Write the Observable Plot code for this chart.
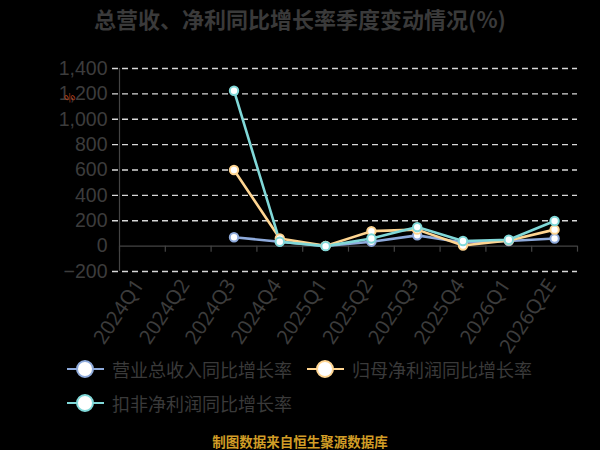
<!DOCTYPE html>
<html>
<head>
<meta charset="utf-8">
<script src="https://cdn.jsdelivr.net/npm/d3@7"></script>
<script src="https://cdn.jsdelivr.net/npm/@observablehq/plot@0.6"></script>
<style>
  html, body { margin: 0; padding: 0; background: #000; }
  #wrap { position: relative; width: 600px; height: 450px; overflow: hidden; background: #000;
          font-family: "Noto Sans CJK SC", "Noto Sans", sans-serif; }
  #title { position: absolute; left: 0; width: 600px; top: 3px; text-align: center;
           font-size: 22px; font-weight: bold; color: #3a3a3a; line-height: 30px; }
  #chart { position: absolute; left: 0; top: 0; }
  .leg { position: absolute; display: flex; align-items: center; font-size: 18px; color: #3a3a3a; line-height: 20px; }
  .leg svg { margin-right: 7px; }
  #foot { position: absolute; left: 0; width: 600px; top: 431px; text-align: center;
          font-size: 13.5px; font-weight: bold; color: #d19d26; line-height: 20px; }
  #mark { position: absolute; left: 64px; top: 89px; font-size: 11px; color: #b8401e; transform: rotate(-30deg); }
</style>
</head>
<body>
<div id="wrap">
  <div id="chart"></div>
  <div id="title">总营收、净利同比增长率季度变动情况(%)</div>
  <div id="mark">%</div>
  <div id="legend"></div>
  <div id="foot">制图数据来自恒生聚源数据库</div>
</div>
<script>
const categories = ["2024Q1","2024Q2","2024Q3","2024Q4","2025Q1","2025Q2","2025Q3","2025Q4","2026Q1","2026Q2E"];
const seriesNames = ["营业总收入同比增长率","归母净利润同比增长率","扣非净利润同比增长率"];
const revenueGrowth   = [null, null, 70, 35, 2, 35, 85, 28, 40, 60];
const netProfitGrowth = [null, null, 600, 60, 2, 118, 130, 5, 45, 130];
const deductedGrowth  = [null, null, 1225, 35, 0, 60, 150, 40, 50, 198];
const colors = ["#8eaadb", "#ffd591", "#80d8d8"];
const yTicks = [-200, 0, 200, 400, 600, 800, 1000, 1200, 1400];

const allSeries = [revenueGrowth, netProfitGrowth, deductedGrowth];
const rows = [];
allSeries.forEach((vals, s) => {
  vals.forEach((v, i) => {
    if (v !== null) rows.push({series: seriesNames[s], idx: i + 0.5, value: v, color: colors[s]});
  });
});
const boundaries = d3.range(categories.length + 1);
const catCenters = categories.map((c, i) => i + 0.5);

const marks = [
  Plot.ruleY(yTicks.filter(t => t !== 0), {y: d => d, stroke: "#d8d8d8", strokeWidth: 1.3, strokeDasharray: "6,4", insetLeft: -7}),
  Plot.ruleX([0], {x: d => d, y1: -200, y2: 1400, stroke: "#444", strokeWidth: 1.2}),
  Plot.ruleY([0], {y: d => d, stroke: "#444", strokeWidth: 1.2}),
  Plot.ruleX(boundaries, {x: d => d, y1: 0, y2: 0, insetBottom: -6, stroke: "#444", strokeWidth: 1.2}),
  Plot.axisY({ticks: yTicks, tickFormat: d3.format(","), tickSize: 0, tickPadding: 12, label: null,
              fontSize: 19.5, fill: "#3c3c3c", fontFamily: "Liberation Sans, Arial, sans-serif"}),
  Plot.axisX({ticks: catCenters, tickFormat: d => categories[Math.floor(d)], tickSize: 0, tickPadding: 10, label: null,
              tickRotate: -56, fontSize: 20, fill: "#3c3c3c", dx: -3, fontFamily: "Noto Sans, sans-serif"}),
];
seriesNames.forEach((name, s) => {
  const data = rows.filter(r => r.series === name);
  marks.push(Plot.line(data, {x: "idx", y: "value", stroke: colors[s], strokeWidth: 2.6}));
});
seriesNames.forEach((name, s) => {
  const data = rows.filter(r => r.series === name);
  marks.push(Plot.dot(data, {x: "idx", y: "value", r: 4.2, fill: "#fff", stroke: colors[s], strokeWidth: 2}));
});

const chart = Plot.plot({
  width: 600, height: 450,
  marginTop: 68, marginBottom: 179, marginLeft: 119, marginRight: 23,
  style: {background: "transparent", overflow: "visible"},
  x: {type: "linear", domain: [0, categories.length], axis: null},
  y: {domain: [-200, 1400], axis: null},
  marks
});
document.getElementById("chart").appendChild(chart);

// Legend
const legendPos = [[67, 359], [307, 359], [67, 393]];
const legend = document.getElementById("legend");
seriesNames.forEach((name, s) => {
  const div = document.createElement("div");
  div.className = "leg";
  div.style.left = legendPos[s][0] + "px";
  div.style.top = legendPos[s][1] + "px";
  div.innerHTML = `<svg width="38" height="20"><line x1="0" y1="10" x2="37" y2="10" stroke="${colors[s]}" stroke-width="2"/>` +
    `<circle cx="18" cy="10" r="8" fill="#fff" stroke="${colors[s]}" stroke-width="2"/></svg><span>${name}</span>`;
  legend.appendChild(div);
});
</script>
</body>
</html>
